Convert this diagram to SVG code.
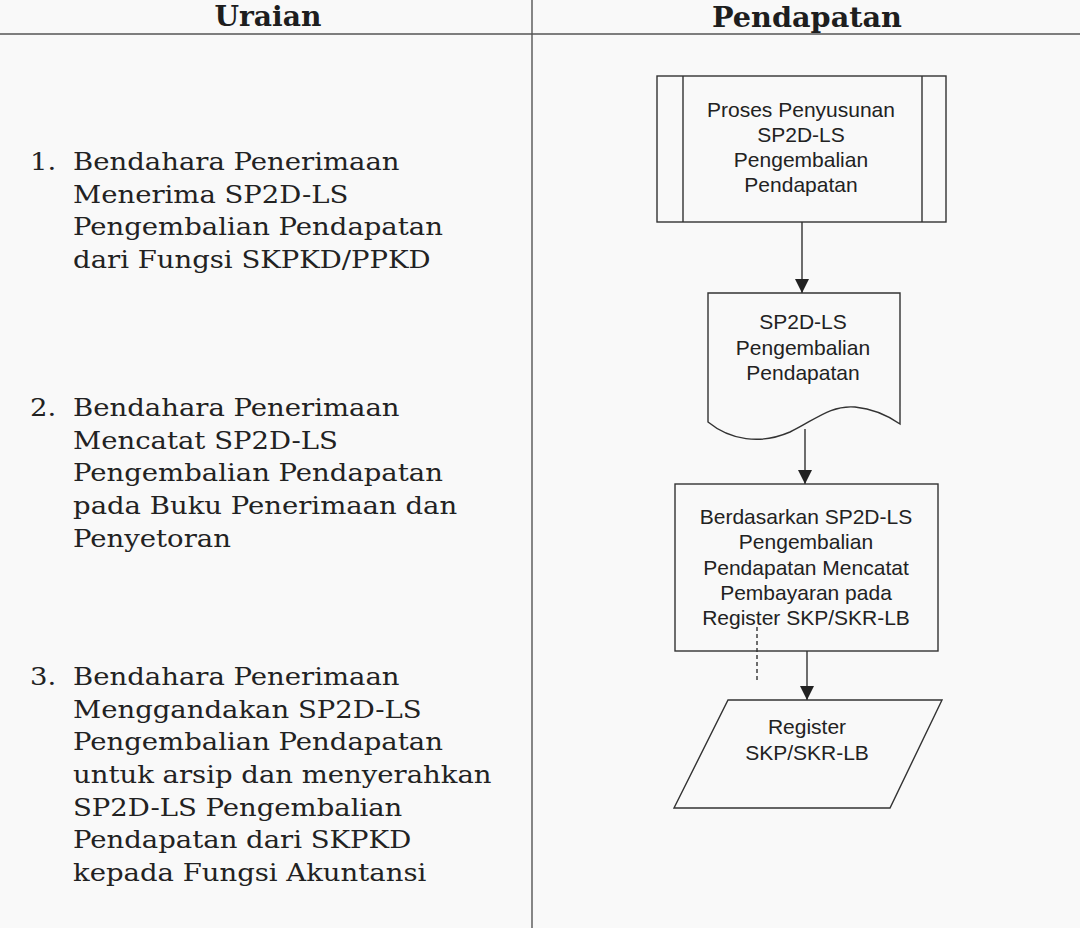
<svg xmlns="http://www.w3.org/2000/svg" width="1080" height="928" viewBox="0 0 1080 928">
  <style>
    .hdr { font-family: "DejaVu Serif", "Liberation Serif", serif; font-weight: bold; font-size: 28px; fill: #1e1e1e; text-anchor: middle; }
    .lt { font-family: "DejaVu Serif", "Liberation Serif", serif; font-size: 25px; fill: #222; }
    .nt { font-family: "Liberation Sans", Arial, sans-serif; font-size: 21px; fill: #222; text-anchor: middle; }
    .shape { fill: none; stroke: #333; stroke-width: 1.4; }
    .rule { stroke: #555; stroke-width: 1.4; fill: none; }
    .conn { stroke: #333; stroke-width: 1.4; fill: none; }
  </style>
  <defs>
    <marker id="arr" markerUnits="userSpaceOnUse" markerWidth="15" markerHeight="14" refX="14" refY="7" orient="auto" viewBox="0 0 15 14">
      <path d="M0,0 L14,7 L0,14 Z" fill="#222"/>
    </marker>
  </defs>
  <rect width="1080" height="928" fill="#f9f9f9"/>

  <g id="table">
    <line class="rule" x1="0" y1="34" x2="1080" y2="34"/>
    <line class="rule" x1="532" y1="0" x2="532" y2="928"/>
    <text class="hdr" x="268" y="26" textLength="107" lengthAdjust="spacingAndGlyphs">Uraian</text>
    <text class="hdr" x="807" y="27" textLength="190" lengthAdjust="spacingAndGlyphs">Pendapatan</text>
  </g>

  <g id="uraian" transform="scale(1.1,1)">
    <g id="step1">
      <text class="lt" x="27.3" y="170">1.</text>
      <text class="lt" x="66.4" y="170">Bendahara Penerimaan</text>
      <text class="lt" x="66.4" y="202.7">Menerima SP2D-LS</text>
      <text class="lt" x="66.4" y="235.4">Pengembalian Pendapatan</text>
      <text class="lt" x="66.4" y="268.1">dari Fungsi SKPKD/PPKD</text>
    </g>
    <g id="step2">
      <text class="lt" x="27.3" y="416">2.</text>
      <text class="lt" x="66.4" y="416">Bendahara Penerimaan</text>
      <text class="lt" x="66.4" y="448.7">Mencatat SP2D-LS</text>
      <text class="lt" x="66.4" y="481.4">Pengembalian Pendapatan</text>
      <text class="lt" x="66.4" y="514.1">pada Buku Penerimaan dan</text>
      <text class="lt" x="66.4" y="546.8">Penyetoran</text>
    </g>
    <g id="step3">
      <text class="lt" x="27.3" y="685">3.</text>
      <text class="lt" x="66.4" y="685">Bendahara Penerimaan</text>
      <text class="lt" x="66.4" y="717.7">Menggandakan SP2D-LS</text>
      <text class="lt" x="66.4" y="750.4">Pengembalian Pendapatan</text>
      <text class="lt" x="66.4" y="783.1">untuk arsip dan menyerahkan</text>
      <text class="lt" x="66.4" y="815.8">SP2D-LS Pengembalian</text>
      <text class="lt" x="66.4" y="848.5">Pendapatan dari SKPKD</text>
      <text class="lt" x="66.4" y="881.2">kepada Fungsi Akuntansi</text>
    </g>
  </g>

  <g id="connectors">
    <line class="conn" x1="802" y1="222" x2="802" y2="293" marker-end="url(#arr)"/>
    <line class="conn" x1="805" y1="429" x2="805" y2="484" marker-end="url(#arr)"/>
    <line class="conn" x1="807" y1="651" x2="807" y2="700" marker-end="url(#arr)"/>
    <line class="conn" x1="757" y1="627" x2="757" y2="683" stroke-dasharray="4,3"/>
  </g>

  <g id="n1">
    <rect class="shape" x="657" y="76" width="289" height="146"/>
    <line class="shape" x1="683" y1="76" x2="683" y2="222"/>
    <line class="shape" x1="922" y1="76" x2="922" y2="222"/>
    <text class="nt" x="801" y="117">Proses Penyusunan</text>
    <text class="nt" x="801" y="142">SP2D-LS</text>
    <text class="nt" x="801" y="167">Pengembalian</text>
    <text class="nt" x="801" y="192">Pendapatan</text>
  </g>

  <g id="n2">
    <path class="shape" d="M708,293 H900 V424 C890,417 875,409 855,407 C830,405 815,420 790,432 C760,445 730,440 708,422 Z"/>
    <text class="nt" x="803" y="329">SP2D-LS</text>
    <text class="nt" x="803" y="355">Pengembalian</text>
    <text class="nt" x="803" y="380">Pendapatan</text>
  </g>

  <g id="n3">
    <rect class="shape" x="675" y="484" width="263" height="167"/>
    <text class="nt" x="806" y="524">Berdasarkan SP2D-LS</text>
    <text class="nt" x="806" y="549">Pengembalian</text>
    <text class="nt" x="806" y="575">Pendapatan Mencatat</text>
    <text class="nt" x="806" y="600">Pembayaran pada</text>
    <text class="nt" x="806" y="625">Register SKP/SKR-LB</text>
  </g>

  <g id="n4">
    <path class="shape" d="M728,700 H942 L890,808 H674 Z"/>
    <text class="nt" x="807" y="734">Register</text>
    <text class="nt" x="807" y="760">SKP/SKR-LB</text>
  </g>
</svg>
